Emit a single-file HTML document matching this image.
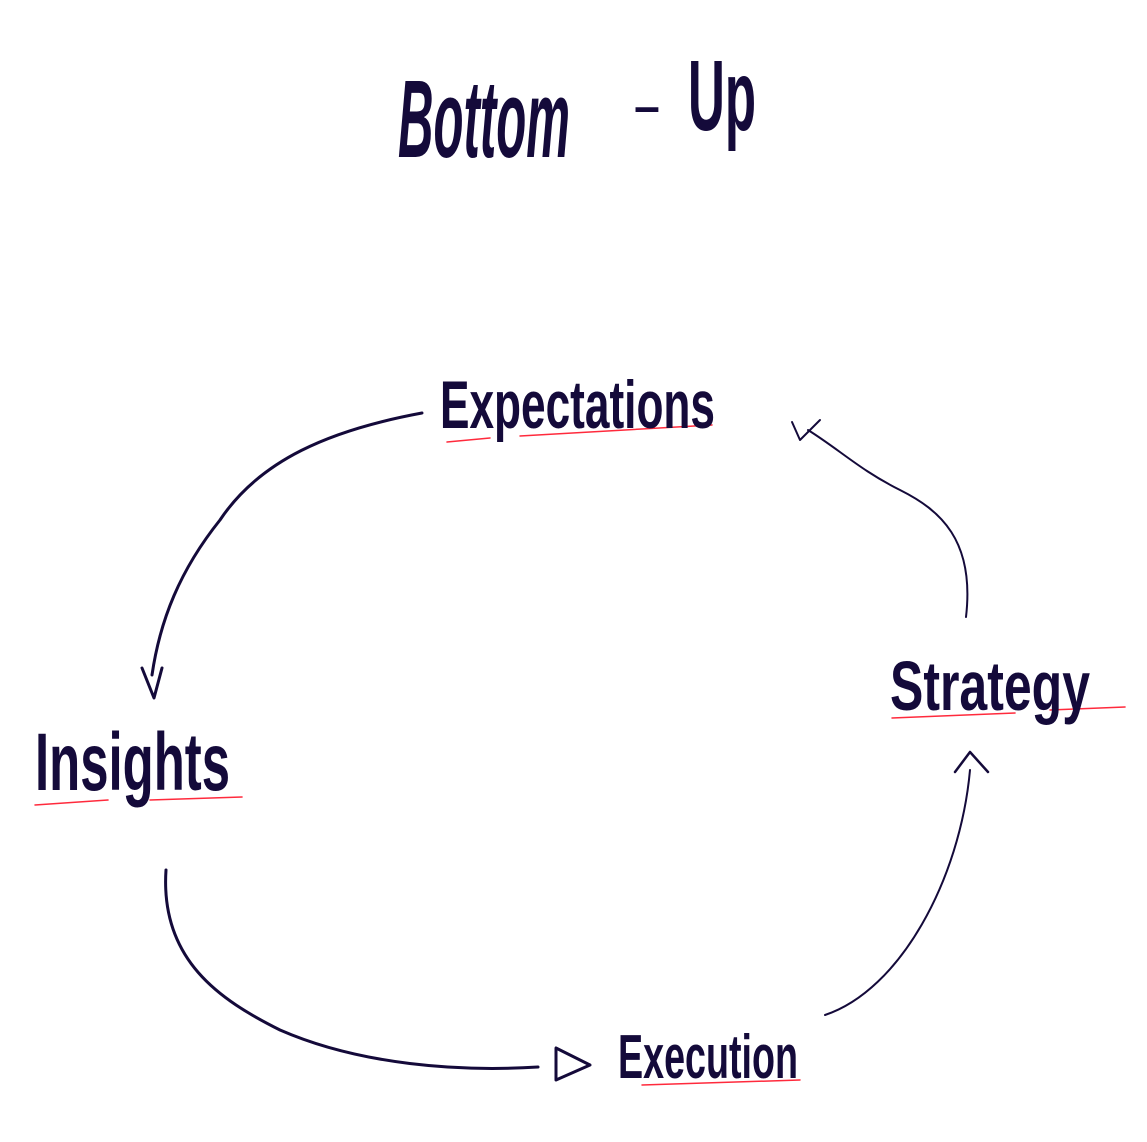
<!DOCTYPE html>
<html><head><style>
html,body{margin:0;padding:0;background:#fff;width:1147px;height:1142px;overflow:hidden}
svg text{font-family:"Liberation Sans Narrow","Liberation Sans",sans-serif;fill:#140a3a;font-weight:bold}
</style></head><body>
<svg width="1147" height="1142" viewBox="0 0 1147 1142" xmlns="http://www.w3.org/2000/svg">
<g fill="none" stroke="#140a3a" stroke-linecap="round" stroke-linejoin="round">
<!-- Expectations -> Insights -->
<path d="M422 413 C330 430 260 460 220 520 C180 570 160 620 152 675" stroke-width="3"/>
<path d="M142 668 L154 698 L162 668" stroke-width="3"/>
<!-- Strategy -> Expectations -->
<path d="M966 617 C975 540 940 510 900 490 C860 470 840 450 808 430" stroke-width="2"/>
<path d="M792 422 L800 440 L820 420" stroke-width="2"/>
<!-- Insights -> Execution -->
<path d="M166 870 C160 960 220 1000 280 1030 C360 1065 460 1072 538 1067" stroke-width="3"/>
<path d="M556 1048 L556 1080 L590 1065 Z" stroke-width="3"/>
<!-- Execution -> Strategy -->
<path d="M825 1015 C900 990 960 880 970 770" stroke-width="2"/>
<path d="M955 772 L970 752 L988 772" stroke-width="2.5"/>
</g>
<g stroke="#ff2a3c" stroke-width="1.5" fill="none" stroke-linecap="round">
<path d="M447 442 L490 438"/><path d="M520 436 L712 425"/>
<path d="M35 805 L108 800"/><path d="M150 800 L242 797"/>
<path d="M892 718 L1015 713"/><path d="M1050 710 L1125 707"/>
<path d="M642 1085 L800 1080"/>
</g>
<text x="398" y="157" font-size="110" textLength="172" lengthAdjust="spacingAndGlyphs" font-style="italic">Bottom</text>
<text x="632" y="120" font-size="40" textLength="30" lengthAdjust="spacingAndGlyphs">-</text>
<text x="688" y="130" font-size="100" textLength="68" lengthAdjust="spacingAndGlyphs">Up</text>
<text x="440" y="428" font-size="68" textLength="275" lengthAdjust="spacingAndGlyphs">Expectations</text>
<text x="35" y="790" font-size="82" textLength="195" lengthAdjust="spacingAndGlyphs">Insights</text>
<text x="890" y="710" font-size="70" textLength="200" lengthAdjust="spacingAndGlyphs">Strategy</text>
<text x="618" y="1078" font-size="62" textLength="180" lengthAdjust="spacingAndGlyphs">Execution</text>
</svg>
</body></html>
